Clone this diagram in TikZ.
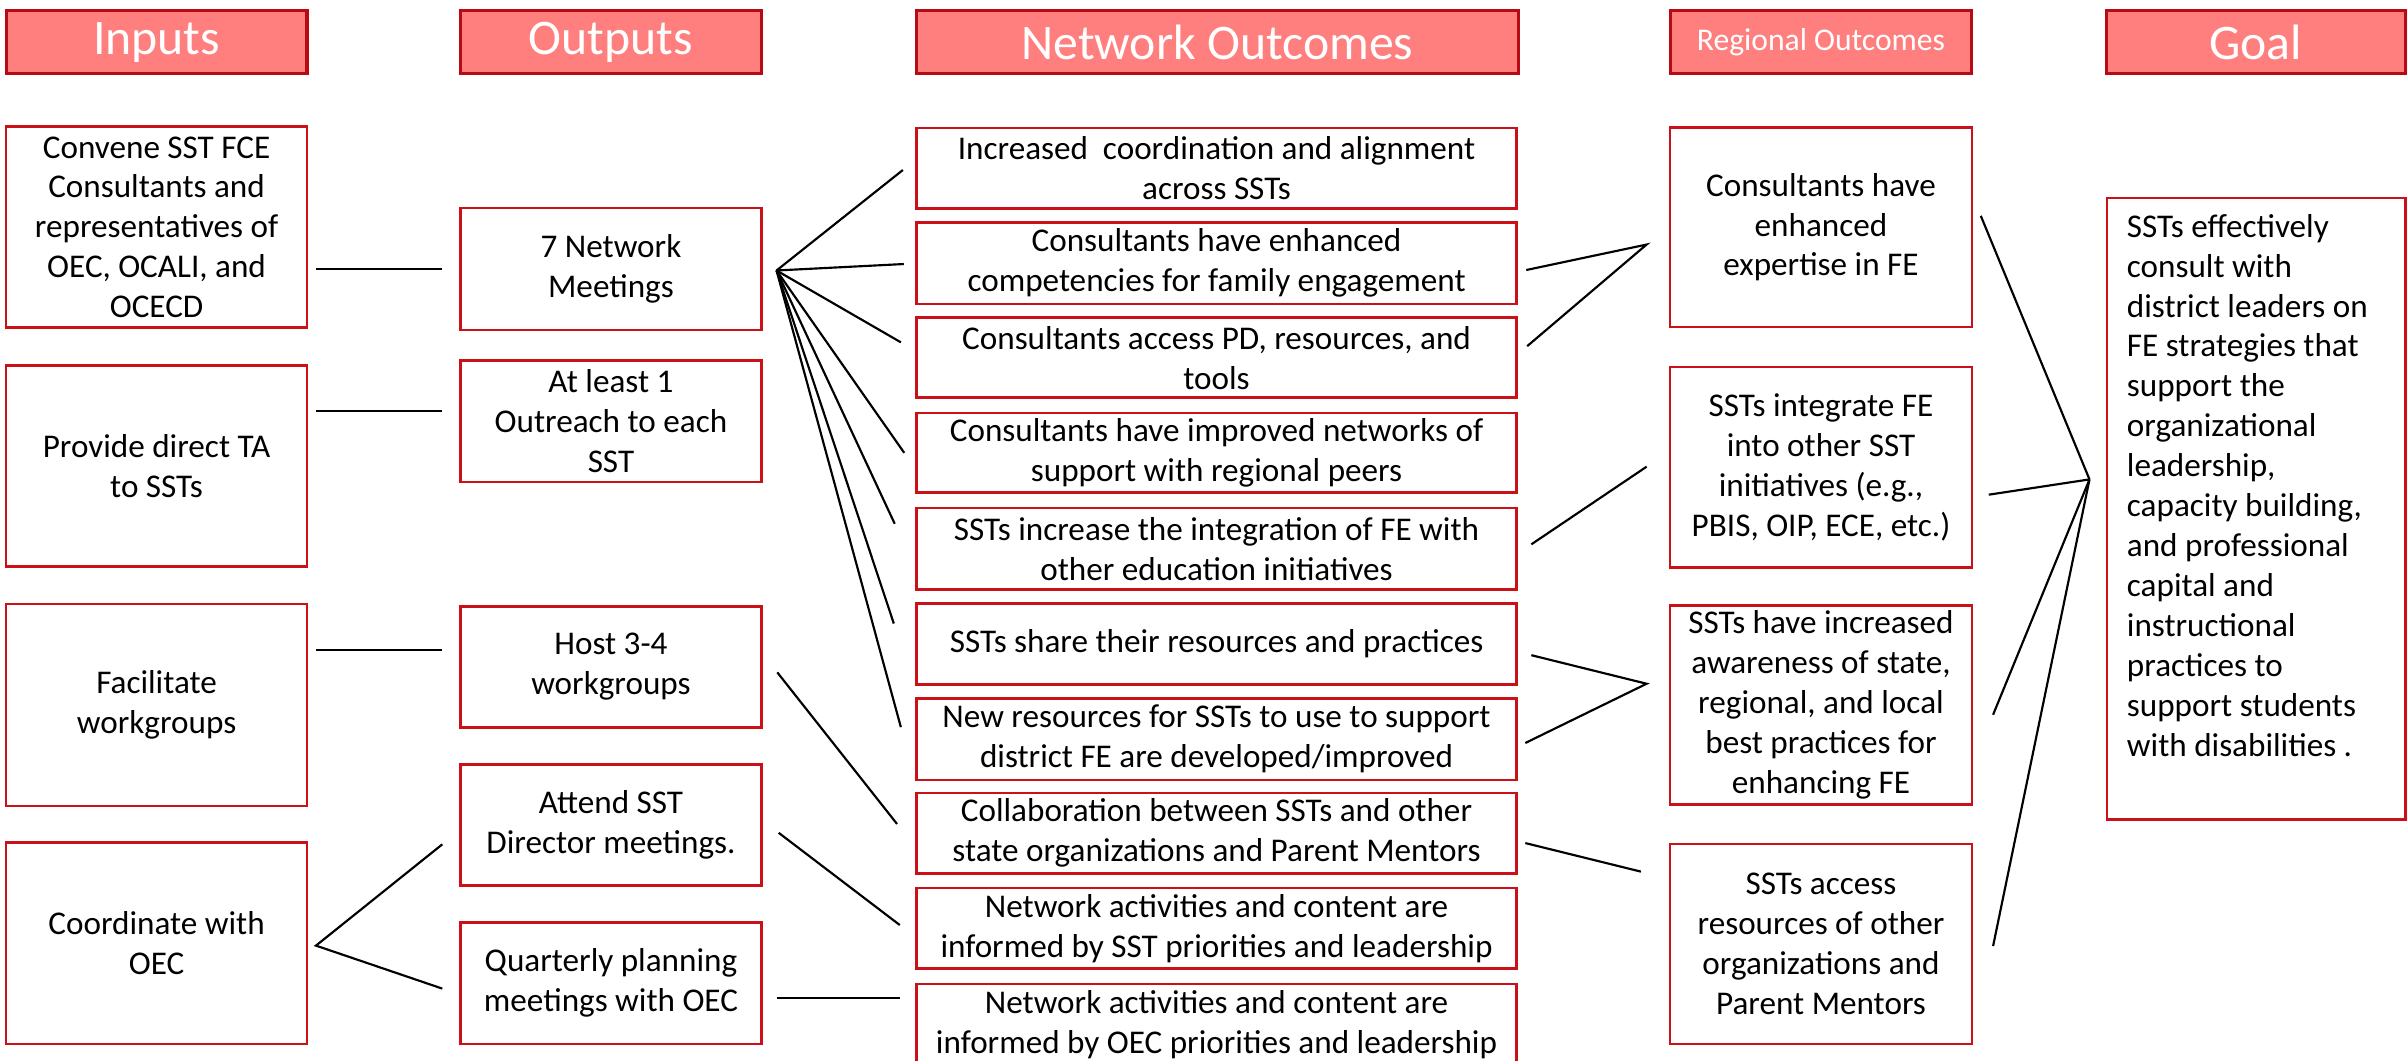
\documentclass[tikz,border=0pt]{standalone}
\usepackage{fontspec}
\setmainfont{Carlito}
\usetikzlibrary{calc}
\definecolor{boxred}{RGB}{204,16,24}
\definecolor{hdrfill}{RGB}{255,127,127}
\definecolor{hdrline}{RGB}{185,10,20}
\newcommand\bodyfont{\fontsize{10.8}{13}\selectfont}
\newcommand\hdrfont{\fontsize{16.2}{19}\selectfont}
\newcommand\smallhdrfont{\fontsize{10.3}{12}\selectfont}
\newcommand\mkbox[7]{\node[#1, minimum width={(#5-#3)*0.5pt}, minimum height={(#6-#4)*0.5pt}] (#2) at ({(#3+#5)/2},{(#4+#6)/2}) {#7};}
\tikzset{
  box/.style={draw=boxred, line width=0.85pt, fill=white, inner sep=0pt, align=center, font=\bodyfont},
  hdr/.style={draw=hdrline, fill=hdrfill, line width=1pt, inner sep=0pt, text=white, font=\hdrfont},
  conn/.style={draw=black, line width=0.7pt}
}
\begin{document}
\begin{tikzpicture}[x=0.5pt,y=-0.5pt]
\useasboundingbox (0,0) rectangle (1568,691);
% headers
\mkbox{hdr}{hin}{4}{7}{200}{48}{Inputs}
\mkbox{hdr}{hout}{300}{7}{496}{48}{Outputs}
\mkbox{hdr}{hnet}{597}{7}{989}{48}{Network Outcomes}
\mkbox{hdr,font=\smallhdrfont}{hreg}{1088}{7}{1284.5}{48}{Regional Outcomes}
\mkbox{hdr}{hgoal}{1372}{7}{1567}{48}{Goal}
% inputs
\mkbox{box}{conv}{4}{82.5}{200}{213.5}{Convene SST FCE\\Consultants and\\representatives of\\OEC, OCALI, and\\OCECD}
\mkbox{box}{prov}{4}{238}{200}{369}{Provide direct TA\\to SSTs}
\mkbox{box}{facil}{4}{393.5}{200}{525}{Facilitate\\workgroups}
\mkbox{box}{coord}{4}{549}{200}{680}{Coordinate with\\OEC}
% outputs
\mkbox{box}{nm}{300}{135.6}{496}{215}{7 Network\\Meetings}
\mkbox{box}{outr}{300}{235}{496}{314}{At least 1\\Outreach to each\\SST}
\mkbox{box}{host}{300}{395}{496}{474}{Host 3-4\\workgroups}
\mkbox{box}{attend}{300}{498}{496}{577}{Attend SST\\Director meetings.}
\mkbox{box}{quart}{300}{601}{496}{680}{Quarterly planning\\meetings with OEC}
% network outcomes
\mkbox{box}{n1}{597}{83.5}{988}{136}{Increased\ \ coordination and alignment\\across SSTs}
\mkbox{box}{n2}{597}{145}{988}{198}{Consultants have enhanced\\competencies for family engagement}
\mkbox{box}{n3}{597}{207}{988}{259}{Consultants access PD, resources, and\\tools}
\mkbox{box}{n4}{597}{269}{988}{321}{Consultants have improved networks of\\support with regional peers}
\mkbox{box}{n5}{597}{331}{988}{384}{SSTs increase the integration of FE with\\other education initiatives}
\mkbox{box}{n6}{597}{393}{988}{446}{SSTs share their resources and practices}
\mkbox{box}{n7}{597}{455}{988}{508}{New resources for SSTs to use to support\\district FE are developed/improved}
\mkbox{box}{n8}{597}{516.5}{988}{569}{Collaboration between SSTs and other\\state organizations and Parent Mentors}
\mkbox{box}{n9}{597}{578.5}{988}{631}{Network activities and content are\\informed by SST priorities and leadership}
\mkbox{box}{n10}{597}{641}{988}{693.5}{Network activities and content are\\informed by OEC priorities and leadership}
% regional outcomes
\mkbox{box}{r1}{1088}{83}{1284.5}{213}{Consultants have\\enhanced\\expertise in FE}
\mkbox{box}{r2}{1088}{239}{1284.5}{369.5}{SSTs integrate FE\\into other SST\\initiatives (e.g.,\\PBIS, OIP, ECE, etc.)}
\mkbox{box}{r3}{1088}{394.5}{1284.5}{524}{SSTs have increased\\awareness of state,\\regional, and local\\best practices for\\enhancing FE}
\mkbox{box}{r4}{1088}{549.8}{1284.5}{680}{SSTs access\\resources of other\\organizations and\\Parent Mentors}
% goal
\mkbox{box}{goal}{1372.5}{129}{1567}{534}{}
\node[anchor=north west, inner sep=0pt, align=left, font=\bodyfont] (goaltext) at ($(goal.north west)+(13.5,11)$)
 {SSTs effectively\\consult with\\district leaders on\\FE strategies that\\support the\\organizational\\leadership,\\capacity building,\\and professional\\capital and\\instructional\\practices to\\support students\\with disabilities .};
% inputs -> outputs
\draw[conn] ($(conv.east)+(5,27.3)$) -- ($(nm.west)+(-11,0)$);
\draw[conn] ($(prov.east)+(5,-36)$) -- ($(outr.west)+(-11,-7)$);
\draw[conn] ($(facil.east)+(5,-35.75)$) -- ($(host.west)+(-11,-11)$);
\coordinate (coordapex) at ($(coord.east)+(5,1.5)$);
\draw[conn] ($(attend.west)+(-11,12.5)$) -- (coordapex) -- ($(quart.west)+(-11,3.5)$);
% outputs -> network outcomes
\coordinate (nmapex) at ($(nm.east)+(9,0.9)$);
\draw[conn] (nmapex) -- ($(n1.west)+(-8,1)$);
\draw[conn] (nmapex) -- ($(n2.west)+(-7.4,0.5)$);
\draw[conn] (nmapex) -- ($(n3.west)+(-9.3,-10)$);
\draw[conn] (nmapex) -- ($(n4.west)+(-7.1,0)$);
\draw[conn] (nmapex) -- ($(n5.west)+(-13.3,-16.3)$);
\draw[conn] (nmapex) -- ($(n6.west)+(-13.9,-13.3)$);
\draw[conn] (nmapex) -- ($(n7.west)+(-9.3,-7.8)$);
\draw[conn] ($(host.east)+(9.5,3.5)$) -- ($(n8.west)+(-11.8,-6)$);
\draw[conn] ($(attend.east)+(10.4,5)$) -- ($(n9.west)+(-10,-2.15)$);
\draw[conn] ($(quart.east)+(9.5,9.5)$) -- ($(n10.west)+(-10,-17.25)$);
% network -> regional
\coordinate (r1apex) at ($(r1.west)+(-14.5,11.3)$);
\draw[conn] ($(n2.east)+(5.4,4.4)$) -- (r1apex) -- ($(n3.east)+(6,-7.5)$);
\draw[conn] ($(n5.east)+(8.7,-2.9)$) -- ($(r2.west)+(-14.5,-0.25)$);
\coordinate (r3apex) at ($(r3.west)+(-14.5,-13.85)$);
\draw[conn] ($(n6.east)+(8.7,7.3)$) -- (r3apex) -- ($(n7.east)+(4.8,2.5)$);
\draw[conn] ($(n8.east)+(4.8,6.45)$) -- ($(r4.west)+(-18.2,-47.1)$);
% regional -> goal
\coordinate (goalapex) at ($(goal.west)+(-10.5,-19.2)$);
\draw[conn] ($(r1.east)+(5,-7.4)$) -- (goalapex);
\draw[conn] ($(r2.east)+(10.2,18)$) -- (goalapex);
\draw[conn] ($(r3.east)+(13,6.35)$) -- (goalapex);
\draw[conn] ($(r4.east)+(13,1.4)$) -- (goalapex);
\end{tikzpicture}
\end{document}
